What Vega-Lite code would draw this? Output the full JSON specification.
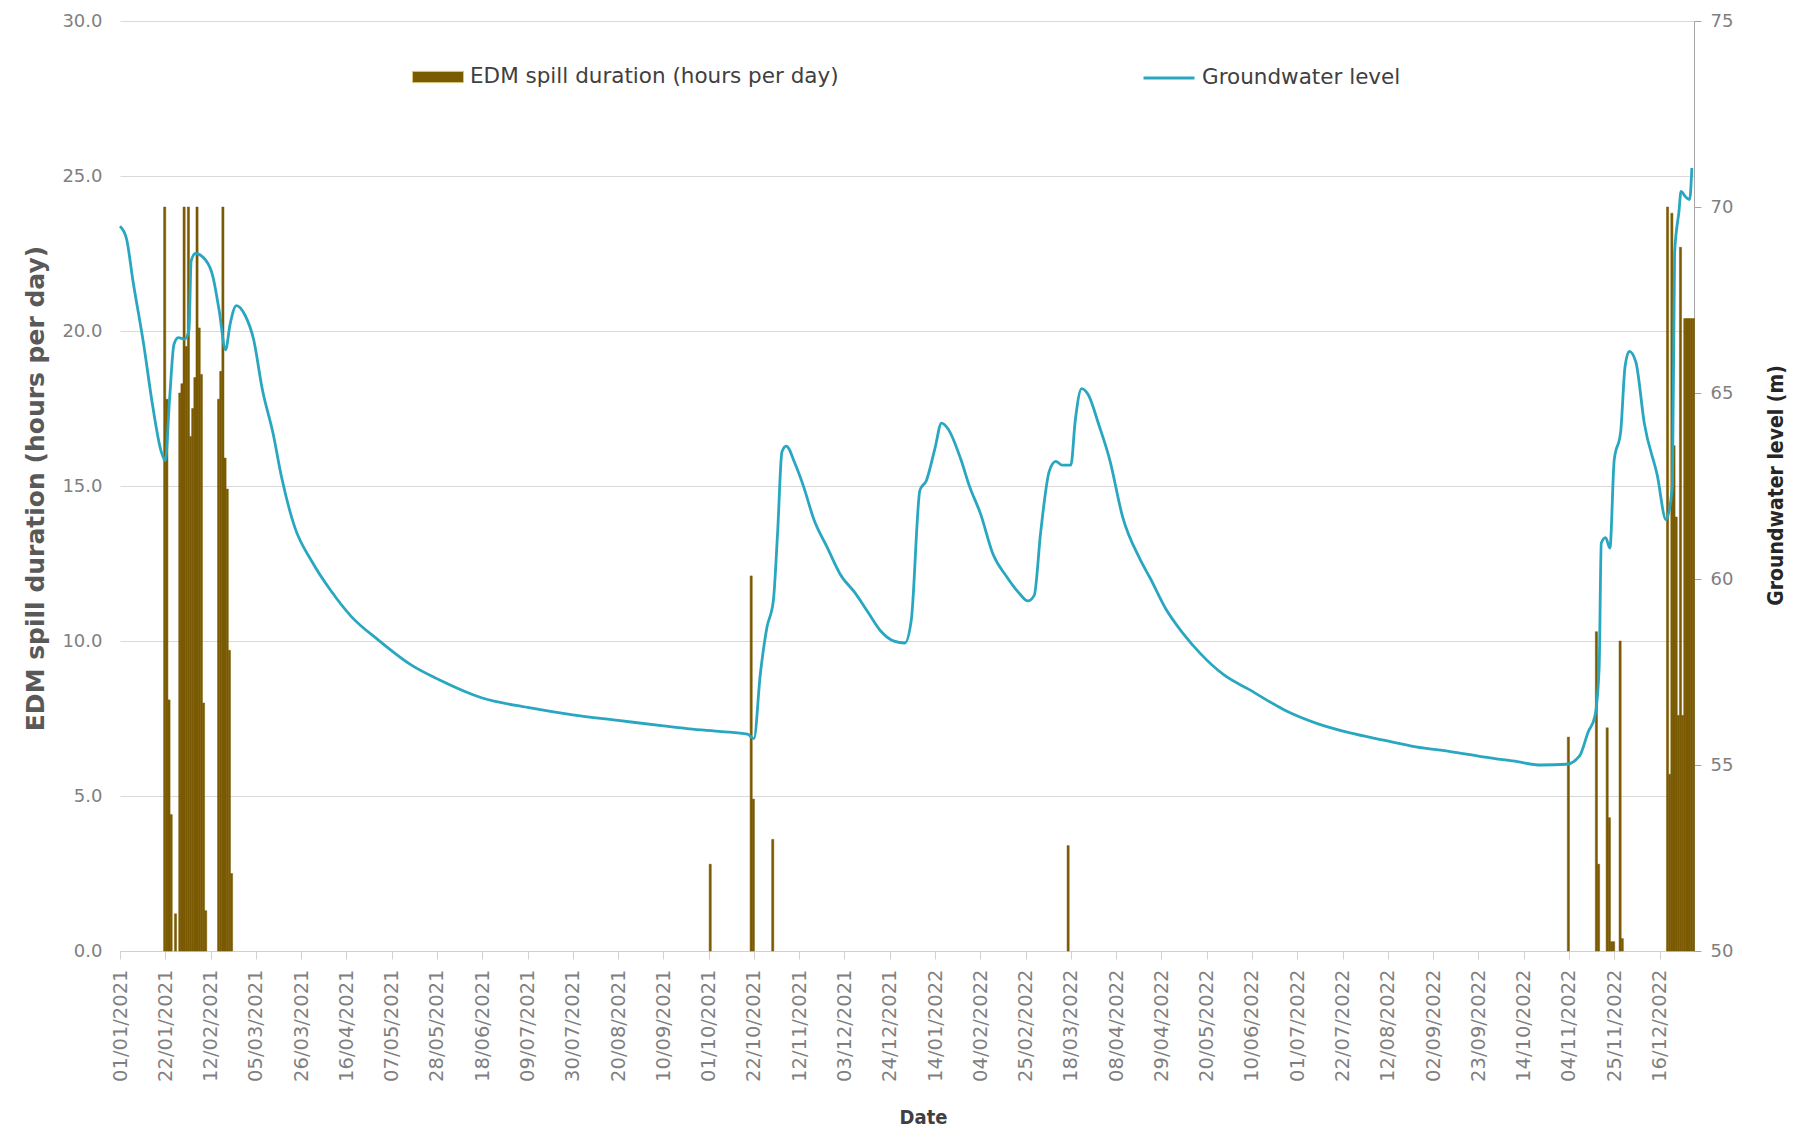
{
  "$schema": "https://vega.github.io/schema/vega-lite/v6.json",
  "width": 1574,
  "height": 930,
  "autosize": {"type": "none"},
  "padding": {"left": 120, "top": 21, "right": 114, "bottom": 176},
  "background": "white",
  "config": {"view": {"stroke": null}, "font": "DejaVu Sans"},
  "datasets": {
    "spill": [
      {"date": "2021-01-21", "hours": 24.0}, {"date": "2021-01-22", "hours": 17.8}, {"date": "2021-01-23", "hours": 8.1}, {"date": "2021-01-24", "hours": 4.4},
      {"date": "2021-01-26", "hours": 1.2}, {"date": "2021-01-28", "hours": 18.0}, {"date": "2021-01-29", "hours": 18.3}, {"date": "2021-01-30", "hours": 24.0},
      {"date": "2021-01-31", "hours": 19.5}, {"date": "2021-02-01", "hours": 24.0}, {"date": "2021-02-02", "hours": 16.6}, {"date": "2021-02-03", "hours": 17.5},
      {"date": "2021-02-04", "hours": 18.5}, {"date": "2021-02-05", "hours": 24.0}, {"date": "2021-02-06", "hours": 20.1}, {"date": "2021-02-07", "hours": 18.6},
      {"date": "2021-02-08", "hours": 8.0}, {"date": "2021-02-09", "hours": 1.3}, {"date": "2021-02-15", "hours": 17.8}, {"date": "2021-02-16", "hours": 18.7},
      {"date": "2021-02-17", "hours": 24.0}, {"date": "2021-02-18", "hours": 15.9}, {"date": "2021-02-19", "hours": 14.9}, {"date": "2021-02-20", "hours": 9.7},
      {"date": "2021-02-21", "hours": 2.5}, {"date": "2021-10-01", "hours": 2.8}, {"date": "2021-10-20", "hours": 12.1}, {"date": "2021-10-21", "hours": 4.9},
      {"date": "2021-10-30", "hours": 3.6}, {"date": "2022-03-16", "hours": 3.4}, {"date": "2022-11-03", "hours": 6.9}, {"date": "2022-11-16", "hours": 10.3},
      {"date": "2022-11-17", "hours": 2.8}, {"date": "2022-11-21", "hours": 7.2}, {"date": "2022-11-22", "hours": 4.3}, {"date": "2022-11-23", "hours": 0.3},
      {"date": "2022-11-24", "hours": 0.3}, {"date": "2022-11-27", "hours": 10.0}, {"date": "2022-11-28", "hours": 0.4}, {"date": "2022-12-19", "hours": 24.0},
      {"date": "2022-12-20", "hours": 5.7}, {"date": "2022-12-21", "hours": 23.8}, {"date": "2022-12-22", "hours": 16.3}, {"date": "2022-12-23", "hours": 14.0},
      {"date": "2022-12-24", "hours": 7.6}, {"date": "2022-12-25", "hours": 22.7}, {"date": "2022-12-26", "hours": 7.6}, {"date": "2022-12-27", "hours": 20.4},
      {"date": "2022-12-28", "hours": 20.4}, {"date": "2022-12-29", "hours": 20.4}, {"date": "2022-12-30", "hours": 20.4}, {"date": "2022-12-31", "hours": 20.4}
    ],
    "level": [
      {"date": "2021-01-01", "level": 69.48}, {"date": "2021-01-04", "level": 69.15}, {"date": "2021-01-07", "level": 68.02}, {"date": "2021-01-12", "level": 66.30},
      {"date": "2021-01-16", "level": 64.71}, {"date": "2021-01-20", "level": 63.45}, {"date": "2021-01-22", "level": 63.18}, {"date": "2021-01-24", "level": 64.84},
      {"date": "2021-01-26", "level": 66.30}, {"date": "2021-01-28", "level": 66.49}, {"date": "2021-01-31", "level": 66.45}, {"date": "2021-02-02", "level": 66.70},
      {"date": "2021-02-03", "level": 68.55}, {"date": "2021-02-05", "level": 68.75}, {"date": "2021-02-10", "level": 68.55}, {"date": "2021-02-13", "level": 68.15},
      {"date": "2021-02-16", "level": 67.22}, {"date": "2021-02-19", "level": 66.16}, {"date": "2021-02-21", "level": 66.83}, {"date": "2021-02-24", "level": 67.35},
      {"date": "2021-02-28", "level": 67.09}, {"date": "2021-03-04", "level": 66.43}, {"date": "2021-03-08", "level": 65.10}, {"date": "2021-03-13", "level": 63.91},
      {"date": "2021-03-17", "level": 62.72}, {"date": "2021-03-23", "level": 61.40}, {"date": "2021-03-31", "level": 60.47}, {"date": "2021-04-09", "level": 59.67},
      {"date": "2021-04-18", "level": 59.01}, {"date": "2021-05-01", "level": 58.35}, {"date": "2021-05-16", "level": 57.69}, {"date": "2021-05-29", "level": 57.29},
      {"date": "2021-06-18", "level": 56.80}, {"date": "2021-07-09", "level": 56.55}, {"date": "2021-07-30", "level": 56.35}, {"date": "2021-08-20", "level": 56.20},
      {"date": "2021-09-10", "level": 56.05}, {"date": "2021-09-22", "level": 55.97}, {"date": "2021-10-07", "level": 55.90}, {"date": "2021-10-19", "level": 55.83},
      {"date": "2021-10-22", "level": 55.71}, {"date": "2021-10-25", "level": 57.46}, {"date": "2021-10-28", "level": 58.69}, {"date": "2021-10-31", "level": 59.41},
      {"date": "2021-11-02", "level": 61.26}, {"date": "2021-11-04", "level": 63.42}, {"date": "2021-11-06", "level": 63.57}, {"date": "2021-11-10", "level": 63.11},
      {"date": "2021-11-14", "level": 62.49}, {"date": "2021-11-19", "level": 61.57}, {"date": "2021-11-25", "level": 60.85}, {"date": "2021-12-01", "level": 60.13},
      {"date": "2021-12-08", "level": 59.62}, {"date": "2021-12-14", "level": 59.10}, {"date": "2021-12-20", "level": 58.59}, {"date": "2021-12-26", "level": 58.33},
      {"date": "2021-12-31", "level": 58.28}, {"date": "2022-01-03", "level": 58.90}, {"date": "2022-01-07", "level": 62.39}, {"date": "2022-01-10", "level": 62.65},
      {"date": "2022-01-14", "level": 63.52}, {"date": "2022-01-17", "level": 64.19}, {"date": "2022-01-20", "level": 64.04}, {"date": "2022-01-26", "level": 63.21},
      {"date": "2022-01-30", "level": 62.49}, {"date": "2022-02-04", "level": 61.77}, {"date": "2022-02-10", "level": 60.65}, {"date": "2022-02-16", "level": 60.08},
      {"date": "2022-02-22", "level": 59.62}, {"date": "2022-02-26", "level": 59.41}, {"date": "2022-03-01", "level": 59.56}, {"date": "2022-03-04", "level": 61.26},
      {"date": "2022-03-08", "level": 62.90}, {"date": "2022-03-11", "level": 63.16}, {"date": "2022-03-14", "level": 63.06}, {"date": "2022-03-18", "level": 63.06},
      {"date": "2022-03-20", "level": 64.24}, {"date": "2022-03-23", "level": 65.12}, {"date": "2022-03-26", "level": 64.96}, {"date": "2022-03-31", "level": 64.14},
      {"date": "2022-04-05", "level": 63.21}, {"date": "2022-04-11", "level": 61.67}, {"date": "2022-04-19", "level": 60.54}, {"date": "2022-04-24", "level": 60.00},
      {"date": "2022-05-01", "level": 59.20}, {"date": "2022-05-09", "level": 58.54}, {"date": "2022-05-17", "level": 58.00}, {"date": "2022-05-28", "level": 57.42},
      {"date": "2022-06-09", "level": 57.02}, {"date": "2022-06-25", "level": 56.48}, {"date": "2022-07-10", "level": 56.12}, {"date": "2022-07-25", "level": 55.87},
      {"date": "2022-08-10", "level": 55.67}, {"date": "2022-08-25", "level": 55.49}, {"date": "2022-09-10", "level": 55.36}, {"date": "2022-09-25", "level": 55.22},
      {"date": "2022-10-11", "level": 55.09}, {"date": "2022-10-22", "level": 55.00}, {"date": "2022-11-03", "level": 55.02}, {"date": "2022-11-09", "level": 55.25},
      {"date": "2022-11-13", "level": 55.90}, {"date": "2022-11-16", "level": 56.30}, {"date": "2022-11-18", "level": 57.60}, {"date": "2022-11-19", "level": 60.97},
      {"date": "2022-11-21", "level": 61.11}, {"date": "2022-11-23", "level": 60.83}, {"date": "2022-11-25", "level": 63.20}, {"date": "2022-11-28", "level": 63.96},
      {"date": "2022-11-30", "level": 65.70}, {"date": "2022-12-02", "level": 66.12}, {"date": "2022-12-05", "level": 65.84}, {"date": "2022-12-09", "level": 64.17},
      {"date": "2022-12-15", "level": 62.78}, {"date": "2022-12-19", "level": 61.60}, {"date": "2022-12-22", "level": 62.50}, {"date": "2022-12-23", "level": 68.75},
      {"date": "2022-12-25", "level": 69.87}, {"date": "2022-12-26", "level": 70.42}, {"date": "2022-12-28", "level": 70.28}, {"date": "2022-12-30", "level": 70.20},
      {"date": "2022-12-31", "level": 71.05}
    ]
  },
  "layer": [
    {
      "data": {"name": "spill"},
      "mark": {"type": "bar", "binSpacing": 0, "stroke": "#7a5a02", "strokeWidth": 0.5},
      "encoding": {
        "x": {
          "field": "date", "type": "temporal", "timeUnit": "utcyearmonthdate", "title": "Date",
          "scale": {"type": "utc", "domain": [{"year": 2021, "month": 1, "date": 1, "utc": true}, {"year": 2023, "month": 1, "date": 1, "utc": true}]},
          "axis": {
            "values": [
              {"year": 2021, "month": 1, "date": 1, "utc": true}, {"year": 2021, "month": 1, "date": 22, "utc": true}, {"year": 2021, "month": 2, "date": 12, "utc": true},
              {"year": 2021, "month": 3, "date": 5, "utc": true}, {"year": 2021, "month": 3, "date": 26, "utc": true}, {"year": 2021, "month": 4, "date": 16, "utc": true},
              {"year": 2021, "month": 5, "date": 7, "utc": true}, {"year": 2021, "month": 5, "date": 28, "utc": true}, {"year": 2021, "month": 6, "date": 18, "utc": true},
              {"year": 2021, "month": 7, "date": 9, "utc": true}, {"year": 2021, "month": 7, "date": 30, "utc": true}, {"year": 2021, "month": 8, "date": 20, "utc": true},
              {"year": 2021, "month": 9, "date": 10, "utc": true}, {"year": 2021, "month": 10, "date": 1, "utc": true}, {"year": 2021, "month": 10, "date": 22, "utc": true},
              {"year": 2021, "month": 11, "date": 12, "utc": true}, {"year": 2021, "month": 12, "date": 3, "utc": true}, {"year": 2021, "month": 12, "date": 24, "utc": true},
              {"year": 2022, "month": 1, "date": 14, "utc": true}, {"year": 2022, "month": 2, "date": 4, "utc": true}, {"year": 2022, "month": 2, "date": 25, "utc": true},
              {"year": 2022, "month": 3, "date": 18, "utc": true}, {"year": 2022, "month": 4, "date": 8, "utc": true}, {"year": 2022, "month": 4, "date": 29, "utc": true},
              {"year": 2022, "month": 5, "date": 20, "utc": true}, {"year": 2022, "month": 6, "date": 10, "utc": true}, {"year": 2022, "month": 7, "date": 1, "utc": true},
              {"year": 2022, "month": 7, "date": 22, "utc": true}, {"year": 2022, "month": 8, "date": 12, "utc": true}, {"year": 2022, "month": 9, "date": 2, "utc": true},
              {"year": 2022, "month": 9, "date": 23, "utc": true}, {"year": 2022, "month": 10, "date": 14, "utc": true}, {"year": 2022, "month": 11, "date": 4, "utc": true},
              {"year": 2022, "month": 11, "date": 25, "utc": true}, {"year": 2022, "month": 12, "date": 16, "utc": true}
            ],
            "labelExpr": "utcFormat(datum.value, '%d/%m/%Y')", "labelAngle": 270, "labelFontSize": 19.5, "labelColor": "#7f7f7f",
            "labelPadding": 10, "labelOverlap": false, "labelFlush": false, "labelBound": false,
            "tickSize": 8, "tickColor": "#d0d0d0", "domainColor": "#d0d0d0", "grid": false,
            "titleFont": "'DejaVu Sans Condensed', 'Liberation Sans', sans-serif", "titleFontSize": 20, "titleFontWeight": "bold", "titleColor": "#404040",
            "titleX": 803, "titleY": 172, "titleBaseline": "alphabetic", "titleAlign": "center"
          }
        },
        "y": {
          "field": "hours", "type": "quantitative", "title": "EDM spill duration (hours per day)",
          "scale": {"domain": [0, 30], "nice": false, "zero": true},
          "axis": {
            "values": [0, 5, 10, 15, 20, 25, 30], "format": ".1f", "labelFontSize": 18, "labelColor": "#7f7f7f", "labelPadding": 18,
            "ticks": false, "domain": false, "grid": true, "gridColor": "#d9d9d9", "gridWidth": 1.2,
            "titleFontSize": 25, "titleFontWeight": "bold", "titleColor": "#595959",
            "titleAngle": 270, "titleX": -85, "titleY": 467, "titleAlign": "center", "titleBaseline": "middle"
          }
        },
        "fill": {
          "datum": "EDM spill duration (hours per day)", "type": "nominal",
          "scale": {"range": ["#7a5a02"]},
          "legend": {
            "orient": "none", "legendX": 292, "legendY": 30, "title": null,
            "symbolType": "M-1,-0.22H1V0.22H-1Z", "symbolSize": 2600, "symbolStrokeColor": "#d8c57a", "symbolStrokeWidth": 1,
            "labelFontSize": 21.5, "labelLimit": 0, "labelColor": "#404040", "labelFont": "DejaVu Sans", "labelOffset": 6
          }
        }
      }
    },
    {
      "data": {"name": "level"},
      "mark": {"type": "line", "strokeWidth": 2.8, "interpolate": "monotone"},
      "encoding": {
        "x": {
          "field": "date", "type": "temporal", "title": "Date",
          "scale": {"type": "utc", "domain": [{"year": 2021, "month": 1, "date": 1, "utc": true}, {"year": 2023, "month": 1, "date": 1, "utc": true}]},
          "axis": {
            "values": [
              {"year": 2021, "month": 1, "date": 1, "utc": true}, {"year": 2021, "month": 1, "date": 22, "utc": true}, {"year": 2021, "month": 2, "date": 12, "utc": true},
              {"year": 2021, "month": 3, "date": 5, "utc": true}, {"year": 2021, "month": 3, "date": 26, "utc": true}, {"year": 2021, "month": 4, "date": 16, "utc": true},
              {"year": 2021, "month": 5, "date": 7, "utc": true}, {"year": 2021, "month": 5, "date": 28, "utc": true}, {"year": 2021, "month": 6, "date": 18, "utc": true},
              {"year": 2021, "month": 7, "date": 9, "utc": true}, {"year": 2021, "month": 7, "date": 30, "utc": true}, {"year": 2021, "month": 8, "date": 20, "utc": true},
              {"year": 2021, "month": 9, "date": 10, "utc": true}, {"year": 2021, "month": 10, "date": 1, "utc": true}, {"year": 2021, "month": 10, "date": 22, "utc": true},
              {"year": 2021, "month": 11, "date": 12, "utc": true}, {"year": 2021, "month": 12, "date": 3, "utc": true}, {"year": 2021, "month": 12, "date": 24, "utc": true},
              {"year": 2022, "month": 1, "date": 14, "utc": true}, {"year": 2022, "month": 2, "date": 4, "utc": true}, {"year": 2022, "month": 2, "date": 25, "utc": true},
              {"year": 2022, "month": 3, "date": 18, "utc": true}, {"year": 2022, "month": 4, "date": 8, "utc": true}, {"year": 2022, "month": 4, "date": 29, "utc": true},
              {"year": 2022, "month": 5, "date": 20, "utc": true}, {"year": 2022, "month": 6, "date": 10, "utc": true}, {"year": 2022, "month": 7, "date": 1, "utc": true},
              {"year": 2022, "month": 7, "date": 22, "utc": true}, {"year": 2022, "month": 8, "date": 12, "utc": true}, {"year": 2022, "month": 9, "date": 2, "utc": true},
              {"year": 2022, "month": 9, "date": 23, "utc": true}, {"year": 2022, "month": 10, "date": 14, "utc": true}, {"year": 2022, "month": 11, "date": 4, "utc": true},
              {"year": 2022, "month": 11, "date": 25, "utc": true}, {"year": 2022, "month": 12, "date": 16, "utc": true}
            ],
            "labelExpr": "utcFormat(datum.value, '%d/%m/%Y')", "labelAngle": 270, "labelFontSize": 19.5, "labelColor": "#7f7f7f",
            "labelPadding": 10, "labelOverlap": false, "labelFlush": false, "labelBound": false,
            "tickSize": 8, "tickColor": "#d0d0d0", "domainColor": "#d0d0d0", "grid": false,
            "titleFont": "'DejaVu Sans Condensed', 'Liberation Sans', sans-serif", "titleFontSize": 20, "titleFontWeight": "bold", "titleColor": "#404040",
            "titleX": 803, "titleY": 172, "titleBaseline": "alphabetic", "titleAlign": "center"
          }
        },
        "y": {
          "field": "level", "type": "quantitative", "title": "Groundwater level (m)",
          "scale": {"domain": [50, 75], "nice": false, "zero": false},
          "axis": {
            "orient": "right", "values": [50, 55, 60, 65, 70, 75], "format": "d", "labelFontSize": 18, "labelColor": "#7f7f7f",
            "labelPadding": 9, "tickSize": 7, "tickColor": "#a6a6a6", "domainColor": "#a6a6a6", "grid": false,
            "titleFont": "'DejaVu Sans Condensed', 'Liberation Sans', sans-serif", "titleFontSize": 21, "titleFontWeight": "bold", "titleColor": "#262626",
            "titleAngle": 270, "titleX": 82, "titleY": 464, "titleAlign": "center", "titleBaseline": "middle"
          }
        },
        "stroke": {
          "datum": "Groundwater level", "type": "nominal",
          "scale": {"range": ["#2aa7c0"]},
          "legend": {
            "orient": "none", "legendX": 1022, "legendY": 30, "title": null,
            "symbolType": "stroke", "symbolSize": 2600, "symbolStrokeWidth": 3,
            "labelFontSize": 21.5, "labelLimit": 0, "labelColor": "#404040", "labelFont": "DejaVu Sans", "labelOffset": 6
          }
        }
      }
    }
  ],
  "resolve": {"scale": {"y": "independent", "fill": "independent", "stroke": "independent"}}
}
